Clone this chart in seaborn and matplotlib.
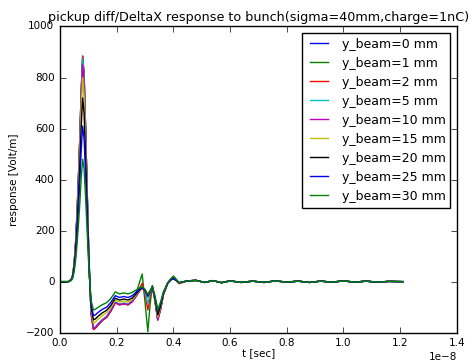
import matplotlib
matplotlib.use("Agg")
import matplotlib.pyplot as plt
import seaborn as sns
import pandas as pd
import numpy as np

# time axis in units of 1e-8 s
rise_t = [0.0, 0.03, 0.04, 0.045, 0.05, 0.055, 0.06, 0.065, 0.07, 0.075, 0.08, 0.085, 0.09,
          0.095, 0.10, 0.105]
mid_t = [0.11, 0.118, 0.125, 0.135, 0.15, 0.165, 0.18, 0.195, 0.21, 0.225, 0.24, 0.255, 0.27,
         0.28, 0.29, 0.30, 0.31, 0.318, 0.326, 0.335, 0.345, 0.355, 0.365, 0.38, 0.39, 0.40,
         0.41, 0.42]
tail_t = [0.45, 0.48, 0.51, 0.54, 0.57, 0.60, 0.64, 0.68, 0.72, 0.76, 0.80, 0.84, 0.88, 0.92,
          0.96, 1.00, 1.04, 1.08, 1.12, 1.16, 1.21]
tail_v = [3, 5, -3, 4, -4, 3, -3, 2, -3, 3, -2, 2, -3, 2, -2, 3, -2, 2, -2, 1, 0]

labels = ["y_beam=0 mm", "y_beam=1 mm", "y_beam=2 mm", "y_beam=5 mm", "y_beam=10 mm",
          "y_beam=15 mm", "y_beam=20 mm", "y_beam=25 mm", "y_beam=30 mm"]
colors = ["b", "g", "r", "c", "m", "y", "k", "b", "g"]

rise0 = [0, 0, 9, 26, 70, 150, 264, 405, 563, 748, 880, 810, 616, 396, 176, 0]
rise1 = [0, 0, 9, 26, 70, 150, 264, 405, 563, 748, 880, 810, 616, 396, 176, 0]
rise2 = [0, 0, 9, 27, 71, 150, 266, 407, 566, 752, 885, 814, 620, 398, 177, 0]
rise5 = [0, 0, 9, 26, 70, 149, 263, 403, 560, 744, 875, 805, 613, 394, 175, 0]
rise10 = [0, 0, 9, 26, 68, 145, 255, 391, 544, 723, 850, 782, 595, 383, 170, 0]
rise15 = [0, 0, 8, 24, 64, 136, 240, 368, 512, 680, 800, 736, 560, 360, 160, 0]
rise20 = [0, 0, 7, 22, 58, 122, 216, 331, 461, 612, 720, 662, 504, 324, 144, 0]
rise25 = [0, 0, 6, 18, 49, 104, 183, 281, 390, 519, 610, 561, 427, 275, 122, 0]
rise30 = [0, 0, 5, 14, 38, 82, 144, 221, 307, 408, 480, 442, 336, 216, 96, 0]

mid0 = [-125, -185, -180, -167, -150, -138, -113, -82, -90, -86, -90, -78, -55, -38, -25, -37, -60, -40, -22, -72, -148, -106, -50, -8, 6, 12, 5, -5]
mid1 = [-125, -185, -180, -167, -150, -138, -113, -82, -90, -86, -90, -75, -40, -5, 30, -80, -196, -90, -15, -72, -150, -108, -50, -5, 8, 20, 8, -5]
mid2 = [-127, -188, -183, -170, -152, -140, -115, -83, -91, -87, -91, -79, -52, -28, -6, -50, -111, -60, -20, -72, -150, -108, -50, -8, 6, 15, 5, -8]
mid5 = [-123, -182, -177, -164, -148, -136, -111, -80, -88, -84, -88, -77, -54, -35, -18, -40, -85, -45, -20, -70, -145, -105, -48, -6, 6, 14, 5, -5]
mid10 = [-125, -185, -180, -167, -150, -138, -113, -82, -90, -86, -90, -78, -55, -38, -25, -37, -60, -40, -22, -72, -150, -108, -50, -6, 6, 12, 5, -5]
mid15 = [-110, -163, -158, -147, -133, -122, -100, -72, -80, -76, -80, -70, -50, -35, -24, -35, -58, -39, -21, -68, -138, -100, -47, -6, 7, 12, 5, -4]
mid20 = [-100, -150, -146, -135, -122, -112, -92, -65, -72, -68, -72, -64, -46, -33, -23, -34, -56, -38, -20, -65, -130, -95, -45, -6, 7, 12, 5, -4]
mid25 = [-90, -133, -130, -120, -108, -100, -80, -55, -62, -58, -62, -55, -40, -30, -22, -32, -55, -38, -20, -60, -112, -85, -42, -5, 8, 14, 6, -4]
mid30 = [-75, -111, -108, -100, -90, -82, -65, -40, -48, -44, -48, -42, -32, -25, -20, -30, -50, -35, -20, -55, -110, -80, -40, -5, 10, 22, 10, -4]

rises = [rise0, rise1, rise2, rise5, rise10, rise15, rise20, rise25, rise30]
mids = [mid0, mid1, mid2, mid5, mid10, mid15, mid20, mid25, mid30]

plt.style.use("classic")
plt.rcParams["font.family"] = ["DejaVu Sans"]

rows = []
ts = rise_t + mid_t + tail_t
for lab, r, m in zip(labels, rises, mids):
    vs = r + m + tail_v
    for t, y in zip(ts, vs):
        rows.append({"t": t * 1e-8, "response": y, "label": lab})
df = pd.DataFrame(rows)

fig = plt.figure(figsize=(4.75, 3.63), dpi=100, facecolor="white")
ax = fig.add_axes([0.1263, 0.0835, 0.8352, 0.8435])
ax.set_facecolor("white")

for lab, col in zip(labels, colors):
    sub = df[df["label"] == lab]
    sns.lineplot(data=sub, x="t", y="response", color=col, linewidth=1.0, ax=ax,
                 label=lab, estimator=None, sort=False)

ax.set_xlim(0, 1.4e-8)
ax.set_ylim(-200, 1000)
ax.set_xticks(np.arange(0, 1.41e-8, 0.2e-8))
ax.set_yticks(np.arange(-200, 1001, 200))
ax.tick_params(labelsize=7.5, direction="in", top=True, right=True)
ax.xaxis.get_offset_text().set_fontsize(7.5)
ax.set_xlabel("t [sec]", fontsize=7.5, labelpad=0)
ax.set_ylabel("response [Volt/m]", fontsize=7.5)
ax.set_title("pickup diff/DeltaX response to bunch(sigma=40mm,charge=1nC)", fontsize=9.2, pad=4)

leg = ax.legend(loc="upper right", fontsize=9, labelspacing=0.48, handlelength=2.0,
                fancybox=False, frameon=True, borderaxespad=0.5, borderpad=0.4)
leg.get_frame().set_edgecolor("black")

fig.savefig("out.png", dpi=100, facecolor="white")
